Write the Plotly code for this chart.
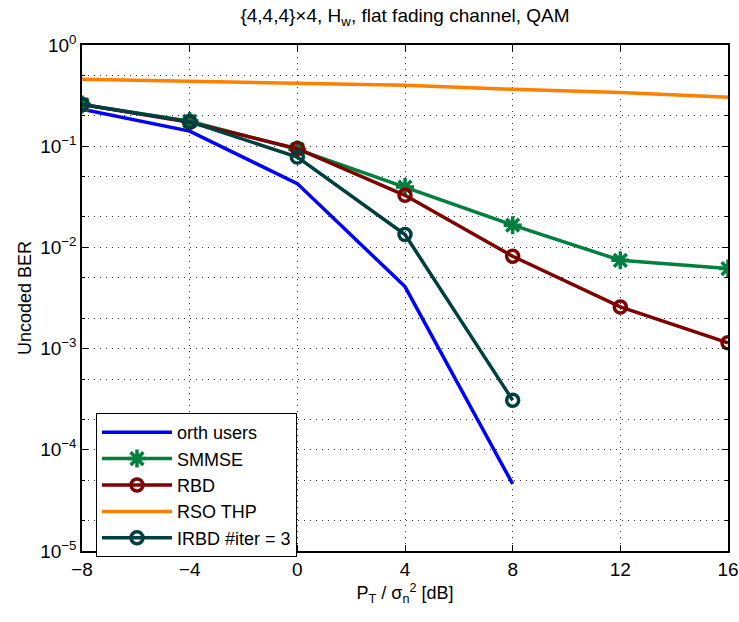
import plotly.graph_objects as go

x_db = [-8, -4, 0, 4, 8, 12, 16]
orth_x = [-8, -4, 0, 4, 8]
orth_users = [0.232, 0.141, 0.0427, 0.0041, 4.6e-5]
smmse = [0.258, 0.177, 0.093, 0.0395, 0.0166, 0.00746, 0.00617]
rbd = [0.258, 0.172, 0.0947, 0.0327, 0.00817, 0.00258, 0.00114]
rso_thp = [0.458, 0.437, 0.416, 0.40, 0.365, 0.339, 0.304]
irbd_x = [-8, -4, 0, 4, 8]
irbd = [0.258, 0.175, 0.078, 0.0134, 3.09e-4]

x_ticks = [-8, -4, 0, 4, 8, 12, 16]
x_ticktext = ["\u22128", "\u22124", "0", "4", "8", "12", "16"]
y_ticks = [1e-5, 1e-4, 1e-3, 1e-2, 1e-1, 1]
y_ticktext = ["10<sup>\u22125</sup>", "10<sup>\u22124</sup>", "10<sup>\u22123</sup>",
              "10<sup>\u22122</sup>", "10<sup>\u22121</sup>", "10<sup>0</sup>"]

FONT = "Liberation Sans, Arial, sans-serif"
LW = 3.5

fig = go.Figure()
fig.add_trace(go.Scatter(x=orth_x, y=orth_users, name="orth users", mode="lines",
                         line=dict(color="#0000ff", width=LW)))
fig.add_trace(go.Scatter(x=x_db, y=smmse, name="SMMSE", mode="lines+markers",
                         line=dict(color="#007f3f", width=LW),
                         marker=dict(symbol="asterisk-open", size=15,
                                     line=dict(color="#007f3f", width=3.5))))
fig.add_trace(go.Scatter(x=x_db, y=rbd, name="RBD", mode="lines+markers",
                         line=dict(color="#7f0000", width=LW),
                         marker=dict(symbol="circle-open", size=12,
                                     line=dict(color="#7f0000", width=3.5))))
fig.add_trace(go.Scatter(x=x_db, y=rso_thp, name="RSO THP", mode="lines",
                         line=dict(color="#ff7f00", width=LW)))
fig.add_trace(go.Scatter(x=irbd_x, y=irbd, name="IRBD #iter = 3", mode="lines+markers",
                         line=dict(color="#003f3f", width=LW),
                         marker=dict(symbol="circle-open", size=12,
                                     line=dict(color="#003f3f", width=3.5))))

W, H = 739, 622
L, R, T, B = 82, 11, 45, 71
PW, PH = W - L - R, H - T - B
fig.update_layout(
    width=W, height=H,
    margin=dict(l=L, r=R, t=T, b=B, autoexpand=False),
    paper_bgcolor="white", plot_bgcolor="white",
    font=dict(family=FONT, size=19, color="black"),
    title=dict(text="{4,4,4}\u00d74, H<sub>w</sub>, flat fading channel, QAM",
               x=(L + W - R) / 2 / W, xanchor="center",
               yref="container", y=1 - 15 / H, yanchor="middle",
               font=dict(family=FONT, size=19, color="black")),
    legend=dict(x=(96 - L) / PW, y=(H - B - 413) / PH,
                xanchor="left", yanchor="top",
                bgcolor="white", bordercolor="black", borderwidth=1,
                font=dict(family=FONT, size=18, color="black"),
                tracegroupgap=0, itemwidth=70),
    showlegend=True,
)
grid = dict(showgrid=True, gridcolor="#333333", griddash="1px,5px", gridwidth=1)
fig.update_xaxes(range=[-8, 16], tickvals=x_ticks, ticktext=x_ticktext,
                 showline=True, linecolor="black", linewidth=1.5, mirror="allticks",
                 ticks="inside", ticklen=6, tickcolor="black", automargin=False,
                 zeroline=False, tickfont=dict(size=19),
                 title=dict(text="P<sub>T</sub> / \u03c3<sub>n</sub><sup>2</sup> [dB]",
                            font=dict(size=18), standoff=8),
                 **grid)
fig.update_yaxes(type="log", range=[-5, 0], tickvals=y_ticks, ticktext=y_ticktext,
                 showline=True, linecolor="black", linewidth=1.5, mirror="allticks",
                 ticks="inside", ticklen=6, tickcolor="black", automargin=False,
                 zeroline=False, tickfont=dict(size=19),
                 minor=dict(ticks="inside", ticklen=3, tickcolor="black",
                            showgrid=True, gridcolor="#333333", griddash="1px,5px", gridwidth=1),
                 title=dict(text="Uncoded BER", font=dict(size=18), standoff=4),
                 **grid)

# remove the default 8px page margin so the figure fills the window exactly
fig.write_html("out.html", config={"displayModeBar": False},
               post_script="document.body.style.margin='0';")
